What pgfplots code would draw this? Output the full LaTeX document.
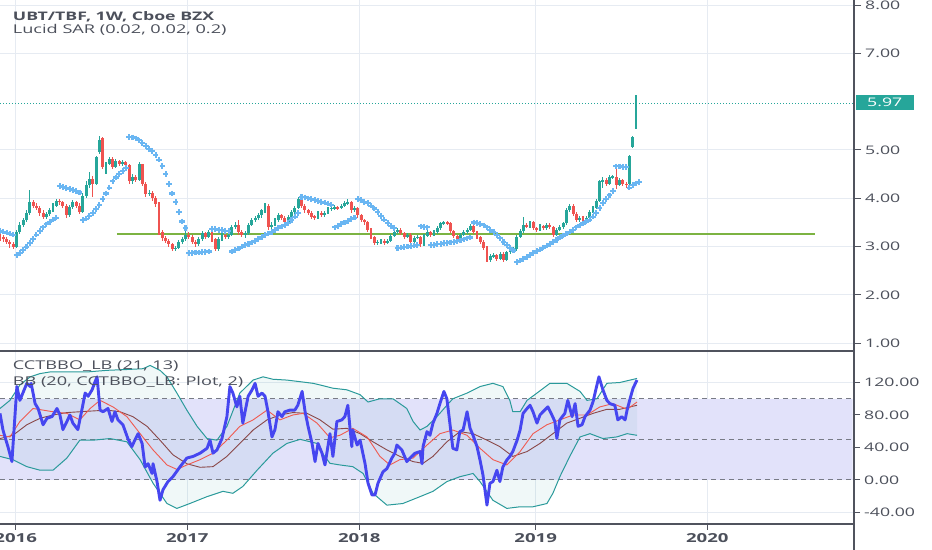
\documentclass[border=0pt]{standalone}
\usepackage{fontspec}
\setmainfont{Open Sans}[FakeStretch=1.5]
\usepackage{pgfplots}
\usepackage{pgfplotstable}
\pgfplotsset{compat=1.18}
\definecolor{cgreen}{HTML}{26A69A}
\definecolor{cred}{HTML}{EF5350}
\definecolor{csar}{HTML}{6AB6F2}
\definecolor{cline}{HTML}{7CB342}
\definecolor{cgrid}{HTML}{E6EBF2}
\definecolor{caxis}{HTML}{50535E}
\definecolor{ctext}{HTML}{4C505B}
\definecolor{cosc}{HTML}{4646F0}
\definecolor{cma}{HTML}{F05A50}
\definecolor{cbasis}{HTML}{8A4848}
\definecolor{cbb}{HTML}{2A9A9A}
\definecolor{cband}{HTML}{E2E2FA}
\definecolor{cdash}{HTML}{787B86}
\newcommand\tsz{\fontsize{11.8bp}{14bp}\selectfont}
\newcommand\xsz{\fontsize{12.4bp}{14bp}\selectfont}

\pgfplotstableread{
i o h l c
0 3.25 3.30 3.12 3.20
1 3.20 3.24 3.10 3.15
2 3.15 3.20 3.05 3.10
3 3.10 3.14 2.98 3.05
4 3.05 3.10 2.95 3.00
5 3.00 3.35 2.98 3.30
6 3.30 3.50 3.27 3.45
7 3.45 3.60 3.40 3.55
8 3.55 3.75 3.52 3.70
9 3.70 4.17 3.66 3.92
10 3.92 3.96 3.80 3.85
11 3.85 3.90 3.75 3.80
12 3.80 3.84 3.64 3.70
13 3.70 3.75 3.58 3.62
14 3.62 3.72 3.58 3.68
15 3.68 3.80 3.64 3.75
16 3.75 3.90 3.72 3.85
17 3.85 3.98 3.82 3.95
18 3.95 3.99 3.86 3.92
19 3.92 3.95 3.80 3.85
20 3.85 3.88 3.60 3.65
21 3.65 3.86 3.62 3.82
22 3.82 3.96 3.78 3.92
23 3.92 3.95 3.80 3.85
24 3.85 3.90 3.68 3.72
25 3.72 4.10 3.70 4.05
26 4.05 4.35 4.00 4.28
27 4.28 4.55 4.22 4.40
28 4.40 4.46 4.02 4.30
29 4.30 4.88 4.27 4.85
30 4.95 5.28 4.92 5.20
31 5.25 5.27 4.60 4.65
32 4.65 4.76 4.50 4.72
33 4.72 4.86 4.68 4.82
34 4.82 4.85 4.60 4.65
35 4.65 4.82 4.62 4.78
36 4.78 4.80 4.66 4.70
37 4.70 4.80 4.66 4.76
38 4.76 4.78 4.62 4.68
39 4.68 4.72 4.30 4.35
40 4.35 4.50 4.30 4.45
41 4.45 4.48 4.33 4.38
42 4.38 4.75 4.36 4.70
43 4.70 4.72 4.25 4.30
44 4.30 4.33 4.03 4.08
45 4.08 4.18 4.05 4.12
46 4.12 4.15 3.95 4.00
47 4.00 4.05 3.82 3.88
48 3.88 3.92 3.25 3.30
49 3.30 3.35 3.12 3.18
50 3.18 3.22 3.08 3.12
51 3.12 3.15 3.00 3.05
52 3.05 3.08 2.90 2.95
53 2.95 3.02 2.90 2.98
54 2.98 3.14 2.95 3.10
55 3.10 3.19 3.06 3.15
56 3.15 3.32 3.12 3.25
57 3.25 3.30 3.15 3.20
58 3.20 3.24 3.05 3.10
59 3.10 3.14 3.00 3.05
60 3.05 3.20 3.02 3.15
61 3.15 3.32 3.12 3.28
62 3.28 3.31 3.15 3.20
63 3.20 3.34 3.17 3.30
64 3.30 3.33 3.10 3.15
65 3.15 3.18 2.90 2.95
66 2.95 3.20 2.92 3.15
67 3.15 3.28 3.12 3.24
68 3.24 3.27 3.15 3.20
69 3.20 3.29 3.16 3.25
70 3.25 3.44 3.22 3.40
71 3.40 3.52 3.36 3.45
72 3.45 3.55 3.25 3.30
73 3.30 3.35 3.20 3.24
74 3.24 3.32 3.18 3.28
75 3.28 3.49 3.25 3.45
76 3.45 3.60 3.42 3.55
77 3.55 3.64 3.50 3.60
78 3.60 3.70 3.55 3.65
79 3.65 3.78 3.60 3.75
80 3.75 3.90 3.70 3.85
81 3.85 3.88 3.35 3.40
82 3.40 3.50 3.36 3.45
83 3.45 3.60 3.42 3.55
84 3.55 3.70 3.52 3.65
85 3.65 3.68 3.55 3.60
86 3.60 3.63 3.46 3.50
87 3.50 3.66 3.47 3.62
88 3.62 3.76 3.58 3.72
89 3.72 3.84 3.68 3.80
90 3.80 4.03 3.77 3.98
91 3.98 4.00 3.80 3.85
92 3.85 3.88 3.70 3.75
93 3.75 3.78 3.65 3.70
94 3.70 3.73 3.57 3.62
95 3.62 3.66 3.55 3.60
96 3.60 3.74 3.57 3.70
97 3.70 3.73 3.61 3.65
98 3.65 3.74 3.62 3.70
99 3.70 3.82 3.67 3.78
100 3.78 3.84 3.74 3.80
101 3.80 3.86 3.76 3.82
102 3.82 3.85 3.76 3.80
103 3.80 3.89 3.77 3.85
104 3.85 3.94 3.82 3.90
105 3.90 3.98 3.87 3.92
106 3.92 3.95 3.70 3.75
107 3.75 3.84 3.72 3.80
108 3.80 3.83 3.60 3.65
109 3.65 3.68 3.50 3.55
110 3.55 3.58 3.45 3.50
111 3.50 3.53 3.30 3.35
112 3.35 3.38 3.15 3.20
113 3.20 3.23 3.03 3.08
114 3.08 3.14 3.04 3.10
115 3.10 3.16 3.06 3.12
116 3.12 3.15 3.03 3.08
117 3.08 3.16 3.05 3.12
118 3.12 3.26 3.09 3.22
119 3.22 3.34 3.19 3.30
120 3.30 3.39 3.27 3.35
121 3.35 3.38 3.24 3.28
122 3.28 3.31 3.16 3.20
123 3.20 3.29 3.17 3.25
124 3.25 3.28 3.05 3.10
125 3.10 3.22 3.07 3.18
126 3.18 3.24 3.15 3.20
127 3.20 3.23 3.00 3.05
128 3.05 3.26 3.02 3.22
129 3.22 3.34 3.19 3.30
130 3.30 3.33 3.21 3.25
131 3.25 3.34 3.22 3.30
132 3.30 3.42 3.27 3.38
133 3.38 3.52 3.35 3.48
134 3.48 3.54 3.45 3.50
135 3.50 3.53 3.44 3.48
136 3.48 3.51 3.28 3.32
137 3.32 3.35 3.18 3.22
138 3.22 3.25 3.11 3.15
139 3.15 3.29 3.12 3.25
140 3.25 3.34 3.22 3.30
141 3.30 3.39 3.27 3.35
142 3.35 3.46 3.32 3.42
143 3.42 3.45 3.26 3.30
144 3.30 3.33 3.16 3.20
145 3.20 3.23 3.06 3.10
146 3.10 3.13 2.94 2.98
147 2.98 3.01 2.68 2.72
148 2.72 2.84 2.69 2.80
149 2.80 2.86 2.76 2.82
150 2.82 2.85 2.71 2.75
151 2.75 2.89 2.72 2.85
152 2.85 2.88 2.68 2.72
153 2.72 2.92 2.70 2.88
154 2.88 2.96 2.85 2.92
155 2.92 2.99 2.89 2.95
156 2.95 3.24 2.92 3.20
157 3.20 3.36 3.17 3.32
158 3.32 3.62 3.29 3.45
159 3.45 3.48 3.38 3.42
160 3.42 3.54 3.39 3.50
161 3.50 3.53 3.34 3.38
162 3.38 3.41 3.31 3.35
163 3.35 3.46 3.32 3.42
164 3.42 3.45 3.34 3.38
165 3.38 3.49 3.35 3.45
166 3.45 3.48 3.36 3.40
167 3.40 3.43 3.20 3.25
168 3.25 3.39 3.22 3.35
169 3.35 3.44 3.32 3.40
170 3.40 3.52 3.37 3.48
171 3.48 3.80 3.45 3.75
172 3.75 3.89 3.72 3.85
173 3.85 3.88 3.64 3.68
174 3.68 3.71 3.51 3.55
175 3.55 3.64 3.52 3.60
176 3.60 3.63 3.51 3.55
177 3.55 3.64 3.52 3.60
178 3.60 3.76 3.57 3.72
179 3.72 3.84 3.69 3.80
180 3.80 3.99 3.77 3.95
181 3.95 4.38 3.92 4.35
182 4.35 4.45 4.22 4.38
183 4.38 4.42 4.25 4.30
184 4.30 4.49 4.27 4.45
185 4.45 4.48 4.40 4.45
186 4.45 4.65 4.20 4.28
187 4.28 4.42 4.25 4.38
188 4.38 4.41 4.26 4.30
189 4.30 4.34 4.22 4.28
190 4.30 4.90 4.27 4.87
191 5.07 5.28 5.04 5.26
192 5.47 6.14 5.44 5.97
}\candles

\pgfplotstableread{
i v
0 3.33
1 3.31
2 3.29
3 3.27
4 3.25
5 2.83
6 2.87
7 2.93
8 3.00
9 3.08
10 3.16
11 3.25
12 3.33
13 3.40
14 3.46
15 3.51
16 3.56
17 3.60
18 4.25
19 4.23
20 4.21
21 4.19
22 4.17
23 4.15
24 4.12
25 3.55
26 3.58
27 3.63
28 3.70
29 3.78
30 3.86
31 3.98
32 4.10
33 4.22
34 4.35
35 4.43
36 4.50
37 4.57
38 4.63
39 5.27
40 5.26
41 5.24
42 5.20
43 5.15
44 5.08
45 5.02
46 4.98
47 4.90
48 4.80
49 4.67
50 4.50
51 4.30
52 4.10
53 3.92
54 3.72
55 3.52
56 3.38
57 2.87
58 2.87
59 2.88
60 2.88
61 2.89
62 2.89
63 2.90
64 3.37
65 3.36
66 3.35
67 3.34
68 3.33
69 3.32
70 2.90
71 2.93
72 2.96
73 3.00
74 3.03
75 3.06
76 3.09
77 3.12
78 3.16
79 3.20
80 3.24
81 3.27
82 3.30
83 3.34
84 3.38
85 3.42
86 3.45
87 3.49
88 3.55
89 3.62
90 3.70
91 4.03
92 4.02
93 4.00
94 3.99
95 3.97
96 3.95
97 3.93
98 3.91
99 3.89
100 3.87
101 3.40
102 3.43
103 3.47
104 3.50
105 3.53
106 3.57
107 3.60
108 3.98
109 3.96
110 3.93
111 3.90
112 3.85
113 3.79
114 3.72
115 3.64
116 3.56
117 3.49
118 3.43
119 3.38
120 2.97
121 2.98
122 2.99
123 3.00
124 3.01
125 3.02
126 3.03
127 3.42
128 3.41
129 3.40
130 3.03
131 3.04
132 3.05
133 3.06
134 3.07
135 3.08
136 3.09
137 3.10
138 3.11
139 3.13
140 3.15
141 3.17
142 3.19
143 3.50
144 3.49
145 3.47
146 3.44
147 3.40
148 3.35
149 3.30
150 3.24
151 3.17
152 3.10
153 3.03
154 2.97
155 2.92
156 2.68
157 2.71
158 2.75
159 2.79
160 2.83
161 2.87
162 2.91
163 2.94
164 2.98
165 3.02
166 3.06
167 3.10
168 3.14
169 3.19
170 3.23
171 3.27
172 3.31
173 3.35
174 3.40
175 3.44
176 3.48
177 3.52
178 3.56
179 3.62
180 3.70
181 3.80
182 3.90
183 3.98
184 4.06
185 4.15
186 4.66
187 4.66
188 4.65
189 4.65
190 4.22
191 4.27
192 4.31
193 4.34
}\sar

\pgfplotstableread{
w v
0 82
0.9 61.5
1.5 53
2.4 41
3.6 22.6
4.5 78
5.1 115
6.0 98
6.9 107
8.1 119
9.1 115
9.4 119
10.6 94
11.5 88
13.0 68
14.2 76
15.7 78
17.2 88
18.1 80
19.0 62
20.2 72
21.1 80
22.0 70
23.5 62
24.8 88
25.7 107
26.6 103
27.8 111
28.7 121
29.3 127
30.2 86
31.1 84
32.6 88
33.8 72
34.7 84
35.6 74
37.1 68
38.6 51
39.8 41
40.7 49
41.7 57
42.9 45
43.8 16
44.7 20
45.9 8
46.2 20
47.4 -2
48.3 -25
49.2 -12
50.7 -2
52.2 4
54.3 16
56.4 27
58.3 29
60.4 33
62.5 39
63.4 49
64.3 33
65.5 37
67.0 51
68.5 78
69.4 115
70.3 107
71.5 90
72.4 103
73.3 70
74.9 103
76.1 111
77.0 119
77.9 103
79.1 107
80.0 103
80.9 84
82.1 53
83.0 62
83.9 84
85.1 78
86.0 84
87.5 86
89.0 86
89.9 92
91.2 109
92.1 84
93.0 66
94.2 45
95.1 22.6
96.0 45
97.2 33
98.1 18.5
99.6 57
100.5 29
101.7 72
103.2 74
104.1 78
105.0 92
106.2 41
106.5 61.5
107.8 43
108.7 49
110.2 20
111.1 -4
112.3 -18.5
113.2 -18.5
114.1 -4
115.6 10
116.8 14
118.3 27
119.2 33
119.8 43
121.3 37
122.8 22.6
123.8 27
125.3 33
126.8 35
127.4 20
127.7 41
128.9 59.5
129.8 55
130.7 70
131.9 82
132.8 94
134.0 109
134.9 100
135.8 70
136.7 39
137.9 37
138.8 59.5
139.8 61.5
141.0 84
141.9 63.6
142.8 55
144.0 41
144.9 24.6
145.8 6
147.0 -31
147.9 -4
148.8 -2
150.0 12
150.9 -2
151.8 16
153.0 24.6
153.9 29
154.8 35
156.1 49
157.0 61.5
157.9 82
159.1 88
160.0 92
160.9 84
162.1 70
163.0 80
163.9 84
165.4 90
166.6 80
167.5 72
168.1 51
169.0 74
170.5 82
171.4 98
172.7 78
173.6 94
174.5 66
175.7 68
176.6 78
178.1 86
179.0 96
180.2 117
180.8 127
182.0 111
183.2 98
184.1 94
185.6 92
186.5 74
187.7 78
188.7 74
189.3 86
190.2 100
191.1 113
192.3 123
}\osc

\pgfplotstableread{
w v
0 55
3.0 53
6.0 72
10.0 88
13.0 86
16.0 84
20.2 82
24.1 74
27.2 88
30.2 98
34.1 90
38.3 78
42.3 57
46.2 37
50.4 18.5
53.4 13
56.4 18.5
60.4 25
64.3 33
68.5 49
72.4 66
76.4 74
80.6 86
84.5 74
88.4 80
91.5 82
95.7 70
99.6 52
102.6 55
106.5 63.6
110.8 53
114.7 29
117.7 18.5
120.7 25
124.7 27
128.9 43
132.8 57
136.7 61.5
141.0 55
144.9 39
148.8 25
153.0 18.5
157.0 35
160.9 57
165.1 68
169.0 74
173.0 80
177.2 80
181.1 90
185.0 94
189.3 87
192.3 96
}\sig

\pgfplotstableread{
w v
0 51
3.9 55
8.1 68
12.1 76
16.0 80
20.2 83
24.1 84
28.1 85
32.3 86
36.2 84
40.1 78
44.4 66
48.3 49
52.2 31
56.4 20
60.4 15.6
64.3 16.4
68.5 29
72.4 45
76.4 61.5
80.6 74
84.5 80
88.4 83
92.7 82
96.6 74
100.5 62.5
104.7 63.6
108.7 57
112.6 47
116.8 37
120.7 29
124.7 22.6
127.7 20.5
130.7 29
134.9 47
138.8 59.5
142.8 57
147.0 49
150.9 41
154.8 29
159.1 35
163.0 45
166.9 57
171.1 70
175.1 76
179.0 82
183.2 87
187.1 87
192.3 92
}\basis

\pgfplotstableread{
w v
0 88
3.0 98
6.0 117
9.1 127
12.1 131
15.1 133
20.2 133
26.3 133
32.3 135
38.3 136
43.2 137
45.3 141
48.3 135
50.4 127
53.4 107
56.4 86
59.5 66
62.5 51
65.5 49
68.5 66
72.4 107
76.4 123
79.4 127
82.4 124
86.6 123
90.6 121
94.5 119
96.6 117
100.5 113
104.7 111
108.7 105
111.1 96
114.7 100
118.6 100
122.8 88
124.7 72
126.8 61.5
128.9 66
131.9 78
134.9 92
136.7 100
141.0 107
144.9 115
148.8 119
151.8 115
153.9 98
154.8 84
157.0 84
159.1 98
162.1 107
166.0 119
171.1 119
175.1 109
177.2 98
180.2 100
183.2 119
187.1 120
192.3 125
}\bbup

\pgfplotstableread{
w v
0 29
3.9 25
8.1 16.4
12.1 12
16.0 12
20.2 27
24.1 49
28.1 49
33.2 51
38.3 47
42.3 25
46.2 -4
50.4 -29
53.4 -35
57.3 -29
62.5 -20.5
67.3 -14
70.3 -16.4
73.3 -8
77.6 12
82.4 33
86.6 45
90.6 50
95.7 45
97.5 32
99.6 20.5
102.6 18.5
106.5 16.4
109.6 8
112.6 -16.4
116.8 -31
121.6 -29
126.8 -20.5
130.7 -14
134.9 -2
138.8 4
142.8 8
144.9 -2
148.8 -25
153.0 -35
157.0 -33
160.9 -33
165.1 -29
166.9 -16.4
169.0 4
172.0 29
175.1 53
178.1 57
182.0 51
186.2 53
189.3 57
192.3 55
}\bblo

% band area: upper band forward, lower band backward
\pgfplotstableread{
w v
0 88
3.0 98
6.0 117
9.1 127
12.1 131
15.1 133
20.2 133
26.3 133
32.3 135
38.3 136
43.2 137
45.3 141
48.3 135
50.4 127
53.4 107
56.4 86
59.5 66
62.5 51
65.5 49
68.5 66
72.4 107
76.4 123
79.4 127
82.4 124
86.6 123
90.6 121
94.5 119
96.6 117
100.5 113
104.7 111
108.7 105
111.1 96
114.7 100
118.6 100
122.8 88
124.7 72
126.8 61.5
128.9 66
131.9 78
134.9 92
136.7 100
141.0 107
144.9 115
148.8 119
151.8 115
153.9 98
154.8 84
157.0 84
159.1 98
162.1 107
166.0 119
171.1 119
175.1 109
177.2 98
180.2 100
183.2 119
187.1 120
192.3 125
192.3 55
189.3 57
186.2 53
182.0 51
178.1 57
175.1 53
172.0 29
169.0 4
166.9 -16.4
165.1 -29
160.9 -33
157.0 -33
153.0 -35
148.8 -25
144.9 -2
142.8 8
138.8 4
134.9 -2
130.7 -14
126.8 -20.5
121.6 -29
116.8 -31
112.6 -16.4
109.6 8
106.5 16.4
102.6 18.5
99.6 20.5
97.5 32
95.7 45
90.6 50
86.6 45
82.4 33
77.6 12
73.3 -8
70.3 -16.4
67.3 -14
62.5 -20.5
57.3 -29
53.4 -35
50.4 -29
46.2 -4
42.3 25
38.3 47
33.2 51
28.1 49
24.1 49
20.2 27
16.0 12
12.1 12
8.1 16.4
3.9 25
0 29
}\bbarea

\begin{document}
\begin{tikzpicture}[x=1bp,y=1bp]
\useasboundingbox (0,0) rectangle (932,550);
% ---------- top panel ----------
\begin{axis}[
  at={(0bp,199bp)}, anchor=south west, scale only axis,
  width=854bp, height=351bp,
  xmin=0, xmax=257.8, ymin=0.841, ymax=8.104,
  axis line style={draw=none},
  xtick={4.74,56.53,108.45,161.7,213.5}, xticklabels={},
  xtick style={draw=none},
  ytick={1,2,3,4,5,7,8},
  ytick pos=right, yticklabel pos=right,
  tick align=outside, major tick length=7bp,
  ytick style={caxis, line width=1bp},
  yticklabel style={font=\tsz, text=ctext, anchor=west, inner sep=0pt, xshift=4bp},
  /pgf/number format/.cd, fixed, fixed zerofill, precision=2, assume math mode=true,
  /pgfplots/.cd,
  grid=major, major grid style={cgrid, line width=1bp},
]
\addplot[cgreen, line width=1.2bp, dash pattern=on 1.2bp off 1.8bp] coordinates {(0,5.97) (257.8,5.97)};
\addplot[cline, line width=1.5bp] coordinates {(35.3,3.26) (246.0,3.26)};
\addplot[only marks, mark=+, mark size=2.8bp, csar, mark options={line width=2.1bp}] table[x=i, y=v] {\sar};
% wicks
\addplot[draw=none, mark=none, restrict expr to domain={\thisrow{c}-\thisrow{o}}{-0.00001:10},
  error bars/.cd, y dir=both, y explicit, error mark=none,
  error bar style={draw=cgreen, line width=1.1bp}]
  table[x=i, y expr={(\thisrow{h}+\thisrow{l})/2}, y error expr={(\thisrow{h}-\thisrow{l})/2}] {\candles};
\addplot[draw=none, mark=none, restrict expr to domain={\thisrow{c}-\thisrow{o}}{-10:-0.00002},
  error bars/.cd, y dir=both, y explicit, error mark=none,
  error bar style={draw=cred, line width=1.1bp}]
  table[x=i, y expr={(\thisrow{h}+\thisrow{l})/2}, y error expr={(\thisrow{h}-\thisrow{l})/2}] {\candles};
% bodies
\addplot[draw=none, mark=none, restrict expr to domain={\thisrow{c}-\thisrow{o}}{-0.00001:10},
  error bars/.cd, y dir=both, y explicit, error mark=none,
  error bar style={draw=cgreen, line width=2.9bp}]
  table[x=i, y expr={(\thisrow{o}+\thisrow{c})/2}, y error expr={max(abs(\thisrow{c}-\thisrow{o})/2,0.015)}] {\candles};
\addplot[draw=none, mark=none, restrict expr to domain={\thisrow{c}-\thisrow{o}}{-10:-0.00002},
  error bars/.cd, y dir=both, y explicit, error mark=none,
  error bar style={draw=cred, line width=2.9bp}]
  table[x=i, y expr={(\thisrow{o}+\thisrow{c})/2}, y error expr={max(abs(\thisrow{c}-\thisrow{o})/2,0.015)}] {\candles};
\end{axis}
% ---------- bottom panel ----------
\begin{axis}[
  at={(0bp,26bp)}, anchor=south west, scale only axis,
  width=854bp, height=173bp,
  xmin=0, xmax=257.8, ymin=-54.2, ymax=158.8,
  axis line style={draw=none},
  xtick={4.74,56.53,108.45,161.7,213.5},
  xticklabels={2016,2017,2018,2019,2020},
  xtick pos=bottom, ytick pos=right, yticklabel pos=right,
  ytick={-40,0,40,80,120},
  tick align=outside, major tick length=6bp,
  tick style={caxis, line width=1bp},
  yticklabel style={font=\tsz, text=ctext, anchor=west, inner sep=0pt, xshift=4bp},
  xticklabel style={font=\bfseries\xsz, text=ctext, anchor=north, inner sep=0pt, yshift=-3bp},
  /pgf/number format/.cd, fixed, fixed zerofill, precision=2, assume math mode=true,
  /pgfplots/.cd,
  grid=major, major grid style={cgrid, line width=1bp},
]
\addplot[draw=none, fill=cband] coordinates {(0,0) (257.4,0) (257.4,100) (0,100) (0,0)};
\addplot[draw=none, fill=cbb, fill opacity=0.07] table[x=w, y=v] {\bbarea};
\addplot[cdash, line width=1bp, dash pattern=on 5bp off 4bp] coordinates {(0,100) (257.8,100)};
\addplot[cdash, line width=1bp, dash pattern=on 5bp off 4bp] coordinates {(0,50) (257.8,50)};
\addplot[cdash, line width=1bp, dash pattern=on 5bp off 4bp] coordinates {(0,0) (257.8,0)};
\addplot[cbb, line width=1bp] table[x=w, y=v] {\bbup};
\addplot[cbb, line width=1bp] table[x=w, y=v] {\bblo};
\addplot[cbasis, line width=0.9bp] table[x=w, y=v] {\basis};
\addplot[cma, line width=0.9bp] table[x=w, y=v] {\sig};
\addplot[cosc, line width=2.9bp, line join=round] table[x=w, y=v] {\osc};
\end{axis}
% ---------- frame lines ----------
\draw[caxis, line width=1.6bp] (0,199) -- (854,199);
\draw[caxis, line width=1.6bp] (0,26) -- (854,26);
\draw[caxis, line width=1.6bp] (854,0) -- (854,550);
% ---------- price label ----------
\node[fill=cgreen, text=white, font=\tsz, anchor=west, inner sep=0pt, minimum height=15.5bp, minimum width=58bp] at (855.5,447.5) {5.97};
% ---------- texts ----------
\node[anchor=west, inner sep=0pt, text=ctext, font=\bfseries\fontsize{11.8bp}{14bp}\selectfont] at (12.7,533.3) {UBT/TBF, 1W, Cboe BZX};
\node[anchor=west, inner sep=0pt, text=ctext, font=\fontsize{12.1bp}{14bp}\selectfont] at (12.7,520) {Lucid SAR (0.02, 0.02, 0.2)};
\node[anchor=west, inner sep=0pt, text=ctext, font=\fontsize{12.1bp}{14bp}\selectfont] at (12.7,183.5) {CCTBBO\_LB (21, 13)};
\node[anchor=west, inner sep=0pt, text=ctext, font=\fontsize{12.1bp}{14bp}\selectfont] at (12.7,168) {BB (20, CCTBBO\_LB: Plot, 2)};
\end{tikzpicture}
\end{document}
